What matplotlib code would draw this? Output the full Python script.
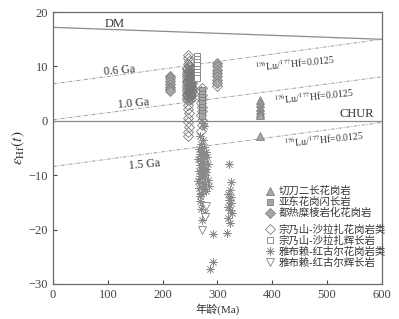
import matplotlib
matplotlib.use("Agg")
import matplotlib.pyplot as plt
from matplotlib.lines import Line2D

plt.rcParams['font.family'] = ['Liberation Serif', 'Noto Sans CJK SC', 'DejaVu Sans']
plt.rcParams['mathtext.fontset'] = 'stix'

# reference evolution lines (age Ma -> eHf)
ref_age = [0, 600]
dm_line = [17.2, 15.0]
ga06_line = [6.8, 15.0]
ga10_line = [0.2, 8.1]
ga15_line = [-8.4, -0.3]
chur_line = [0, 0]

# 切刀二长花岗岩
qd_age = [378, 378, 378, 378, 378, 378, 378]
qd_ehf = [3.9, 3.2, 2.6, 2.0, 1.4, 1.0, -2.7]

# 亚东花岗闪长岩
yd_age = [272, 272, 272, 272, 272, 272, 272, 272, 272]
yd_ehf = [5.6, 5.0, 4.4, 3.8, 3.2, 2.6, 2.0, 1.4, 0.8]

# 都热糜棱岩化花岗岩
dr_age = [213, 213, 213, 213, 213, 213, 213, 299, 299, 299, 299, 299, 299, 299]
dr_ehf = [8.3, 7.8, 7.3, 6.8, 6.3, 5.8, 5.4, 10.6, 10.0, 9.4, 8.8, 8.2, 7.6, 7.0]

# 宗乃山-沙拉扎花岗岩类
zg_age = [247, 247, 248, 247,
          244, 244, 244, 244, 244, 244, 244, 244,
          248, 248, 248, 248, 248, 248, 248, 248, 248,
          252, 252, 252, 252, 252, 252, 252, 252,
          246, 246, 246, 246, 246, 246, 246,
          250, 250, 250, 250, 250, 250,
          253, 253, 253, 253, 253,
          245, 245, 245, 245, 245, 245, 245, 245,
          249, 249, 249, 249, 249, 249, 249, 249,
          251, 251, 251, 251, 251, 251, 251,
          247, 246, 248, 247, 246, 248, 247, 247,
          271, 270, 272, 271, 270, 272, 271, 270, 271, 272, 270,
          299]
zg_ehf = [12.2, 11.5, 11.0, 10.5,
          9.8, 9.0, 8.2, 7.4, 6.6, 5.8, 5.0, 4.2,
          10.2, 9.4, 8.6, 7.8, 7.0, 6.2, 5.4, 4.6, 3.8,
          9.6, 8.8, 8.0, 7.2, 6.4, 5.6, 4.8, 4.0,
          9.2, 8.4, 7.6, 6.8, 6.0, 5.2, 4.4,
          8.9, 8.1, 7.3, 6.5, 5.7, 4.9,
          8.5, 7.7, 6.9, 6.1, 5.3,
          9.5, 8.7, 7.9, 7.1, 6.3, 5.5, 4.7, 3.9,
          9.9, 9.1, 8.3, 7.5, 6.7, 5.9, 5.1, 4.3,
          9.3, 8.5, 7.7, 6.9, 6.1, 5.3, 4.5,
          3.0, 2.2, 1.5, 0.5, -0.3, -1.2, -2.0, -2.8,
          6.0, 5.5, 4.8, 4.0, 3.2, 2.5, 1.8, 1.0, 0.2, -0.8, -1.8,
          6.5]

# 宗乃山-沙拉扎辉长岩
zb_age = [263, 263, 263, 263, 263, 263, 263, 263]
zb_ehf = [12.0, 11.4, 10.8, 10.2, 9.6, 9.0, 8.4, 7.9]

# 雅布赖-红古尔花岗岩类
yg_age = [274, 276,
          268, 273, 270, 276,
          266, 271, 279, 269, 274, 281, 265, 270, 276, 283, 268, 273, 279, 270,
          266, 272, 278, 269, 275, 282, 265, 271, 277, 284, 267, 273, 280, 270,
          269, 275, 271, 278, 267, 273, 270, 276, 280, 268,
          268, 274, 270, 277, 272,
          321, 325, 322, 319, 325, 321, 324, 319, 323, 326, 320, 323, 318,
          292, 292, 286]
yg_ehf = [-0.4, -1.0,
          -2.8, -3.5, -4.2, -4.8,
          -5.2, -5.5, -5.8, -6.1, -6.4, -6.7, -7.0, -7.3, -7.6, -7.9, -8.2, -8.5, -8.8, -9.1,
          -9.3, -9.6, -9.9, -10.2, -10.5, -10.8, -11.1, -11.4, -11.7, -12.0, -12.3, -12.6, -12.9, -13.2,
          -7.0, -8.0, -9.0, -10.0, -11.0, -12.0, -13.5, -6.3, -9.5, -13.8,
          -14.8, -15.5, -16.2, -17.0, -18.2,
          -8.0, -11.2, -12.8, -13.4, -14.0, -14.6, -15.2, -15.8, -16.4, -17.0, -17.8, -18.8, -20.7,
          -20.9, -25.9, -27.2]

# 雅布赖-红古尔辉长岩
yb_age = [279, 277, 272]
yb_ehf = [-15.6, -17.6, -20.0]

grey = '#808080'
fill = '#a6a6a6'
txt = '#333333'
star = (8, 2, 0)

fig = plt.figure(figsize=(3.99, 3.19), dpi=100)
ax = fig.add_axes([0.133, 0.110, 0.824, 0.852])

ax.plot(ref_age, dm_line, color='#8c8c8c', lw=0.9)
ax.plot(ref_age, chur_line, color='#8c8c8c', lw=0.9)
for ln in (ga06_line, ga10_line, ga15_line):
    ax.plot(ref_age, ln, color='#a0a0a0', lw=0.7, ls=(0, (4, 1.5, 1, 1.5)))

ms = 5
ax.plot(zg_age, zg_ehf, ls='none', marker='D', ms=ms, mfc='none', mec='#7a7a7a', mew=0.6)
ax.plot(zb_age, zb_ehf, ls='none', marker='s', ms=ms, mfc='white', mec=grey, mew=0.6)
ax.plot(yg_age, yg_ehf, ls='none', marker=star, ms=6, mec='#8a8a8a', mew=0.5)
ax.plot(yb_age, yb_ehf, ls='none', marker='v', ms=6, mfc='white', mec=grey, mew=0.6)
ax.plot(dr_age, dr_ehf, ls='none', marker='D', ms=ms, mfc=fill, mec=grey, mew=0.6)
ax.plot(yd_age, yd_ehf, ls='none', marker='s', ms=ms, mfc=fill, mec=grey, mew=0.6)
ax.plot(qd_age, qd_ehf, ls='none', marker='^', ms=6, mfc=fill, mec=grey, mew=0.6)

ax.text(113, 17.9, 'DM', fontsize=9, color=txt, ha='center', va='center')
ax.text(555, 1.3, 'CHUR', fontsize=9, color=txt, ha='center', va='center')
ax.text(122, 9.3, '0.6 Ga', fontsize=8.5, color=txt, ha='center', va='center', rotation=5)
ax.text(146, 3.2, '1.0 Ga', fontsize=8.5, color=txt, ha='center', va='center', rotation=5)
ax.text(167, -8.0, '1.5 Ga', fontsize=8.5, color=txt, ha='center', va='center', rotation=5)
lu = r'$^{176}$Lu/$^{177}$Hf=0.0125'
ax.text(441, 10.6, lu, fontsize=7, color=txt, ha='center', va='center', rotation=6)
ax.text(476, 4.6, lu, fontsize=7, color=txt, ha='center', va='center', rotation=6)
ax.text(494, -3.4, lu, fontsize=7, color=txt, ha='center', va='center', rotation=6)

ax.set_xlim(0, 600)
ax.set_ylim(-30, 20)
ax.set_xticks([0, 100, 200, 300, 400, 500, 600])
ax.set_yticks([-30, -20, -10, 0, 10, 20])
ax.tick_params(direction='in', length=3, width=0.8, labelsize=9, colors='#444444')
for s in ax.spines.values():
    s.set_color('#6a6a6a')
    s.set_linewidth(0.9)

ax.set_xlabel('年龄(Ma)', fontsize=8, color=txt, labelpad=2)
ax.set_ylabel(r'$\varepsilon_{\rm Hf}(t)$', fontsize=11, color=txt, labelpad=1)

h1 = [Line2D([], [], ls='none', marker='^', ms=6, mfc=fill, mec=grey, mew=0.6),
      Line2D([], [], ls='none', marker='s', ms=ms, mfc=fill, mec=grey, mew=0.6),
      Line2D([], [], ls='none', marker='D', ms=ms, mfc=fill, mec=grey, mew=0.6)]
l1 = ['切刀二长花岗岩', '亚东花岗闪长岩', '都热糜棱岩化花岗岩']
h2 = [Line2D([], [], ls='none', marker='D', ms=ms, mfc='none', mec=grey, mew=0.6),
      Line2D([], [], ls='none', marker='s', ms=ms, mfc='white', mec=grey, mew=0.6),
      Line2D([], [], ls='none', marker=star, ms=6, mec='#8a8a8a', mew=0.5),
      Line2D([], [], ls='none', marker='v', ms=6, mfc='white', mec=grey, mew=0.6)]
l2 = ['宗乃山-沙拉扎花岗岩类', '宗乃山-沙拉扎辉长岩', '雅布赖-红古尔花岗岩类', '雅布赖-红古尔辉长岩']
kw = dict(loc='upper left', frameon=False, fontsize=7.5, handlelength=1.0,
          handletextpad=0.3, labelspacing=0.08, borderpad=0, borderaxespad=0,
          labelcolor=txt)
leg1 = ax.legend(h1, l1, bbox_to_anchor=(0.644, 0.36), **kw)
ax.add_artist(leg1)
ax.legend(h2, l2, bbox_to_anchor=(0.644, 0.22), **kw)

fig.savefig('out.png', dpi=100)
